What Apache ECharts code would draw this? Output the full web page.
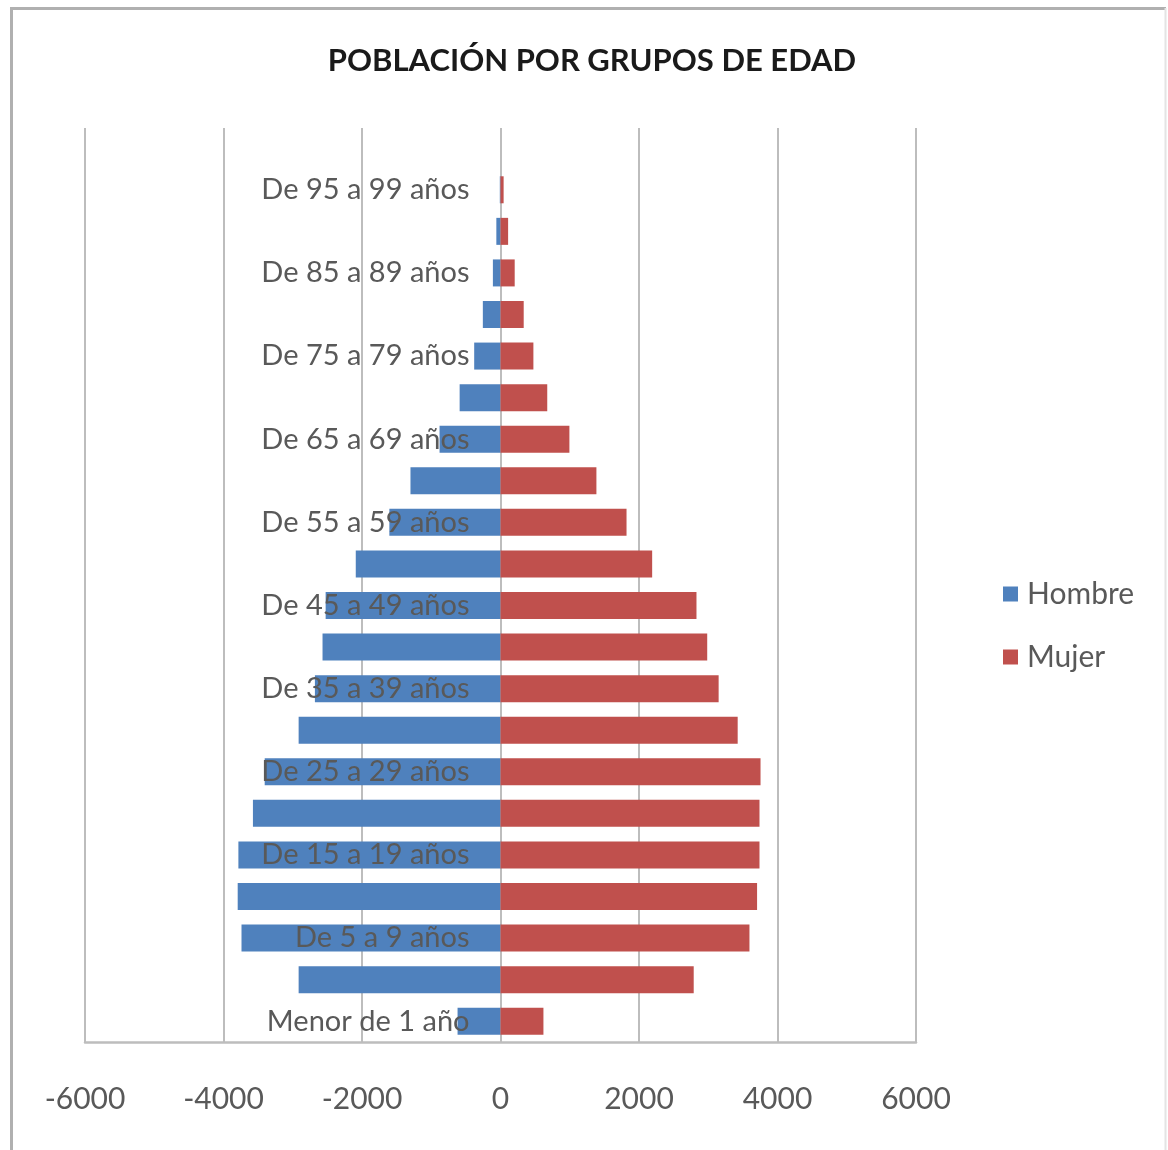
<!DOCTYPE html>
<html>
<head>
<meta charset="utf-8">
<title>Población por grupos de edad</title>
<script src="https://cdn.jsdelivr.net/npm/echarts@6/dist/echarts.min.js"></script>
<style>
  html, body { margin: 0; padding: 0; background: #ffffff; }
  #chart { width: 1168px; height: 1150px; }
</style>
</head>
<body>
<div id="chart"></div>
<script>
// Age groups, youngest at the bottom of the pyramid
const ageGroups = [
  'Menor de 1 año', 'De 1 a 4 años', 'De 5 a 9 años', 'De 10 a 14 años',
  'De 15 a 19 años', 'De 20 a 24 años', 'De 25 a 29 años', 'De 30 a 34 años',
  'De 35 a 39 años', 'De 40 a 44 años', 'De 45 a 49 años', 'De 50 a 54 años',
  'De 55 a 59 años', 'De 60 a 64 años', 'De 65 a 69 años', 'De 70 a 74 años',
  'De 75 a 79 años', 'De 80 a 84 años', 'De 85 a 89 años', 'De 90 a 94 años',
  'De 95 a 99 años'
];

// Men are plotted to the left (negative), women to the right
const hombre = [
  -620, -2915, -3740, -3795, -3785, -3575, -3405, -2915,
  -2680, -2570, -2525, -2090, -1605, -1300, -880, -590,
  -380, -255, -110, -60, -10
];
const mujer = [
  620, 2790, 3595, 3705, 3740, 3740, 3755, 3425,
  3150, 2985, 2830, 2190, 1820, 1385, 995, 675,
  475, 335, 205, 110, 45
];

const xTicks = [-6000, -4000, -2000, 0, 2000, 4000, 6000];

const FONT = 'Lato, "Open Sans", "Liberation Sans", sans-serif';
const GRID_COLOR = '#bdbdbd';

const PLOT_LEFT = 85;
const PLOT_RIGHT = 252;
const PLOT_WIDTH = 1168 - PLOT_LEFT - PLOT_RIGHT;

const chart = echarts.init(document.getElementById('chart'), null, { renderer: 'canvas' });

const xMin = xTicks[0];
const xMax = xTicks[xTicks.length - 1];
const xStep = xTicks[1] - xTicks[0];
// the age labels hang off the zero line, so shift the category axis onto it
const zeroOffset = -PLOT_WIDTH * (0 - xMin) / (xMax - xMin);

chart.setOption({
  backgroundColor: '#ffffff',
  animation: false,
  title: {
    text: 'POBLACIÓN POR GRUPOS DE EDAD',
    left: 587,
    top: 40,
    textAlign: 'center',
    textStyle: { fontFamily: FONT, fontWeight: 'bold', fontSize: 31, color: '#1a1a1a' }
  },
  legend: {
    orient: 'vertical',
    left: 1003,
    top: 579,
    padding: 0,
    itemWidth: 15,
    itemHeight: 15,
    itemGap: 33,
    icon: 'rect',
    data: ['Hombre', 'Mujer'],
    textStyle: { fontFamily: FONT, fontSize: 30, color: '#595959', padding: [0, 0, 0, 4] }
  },
  graphic: [
    { type: 'line', shape: { x1: 11.5, y1: 8.5, x2: 11.5, y2: 1200 }, style: { stroke: '#b0b0b0', lineWidth: 3 } },
    { type: 'line', shape: { x1: 10, y1: 8.5, x2: 1166, y2: 8.5 }, style: { stroke: '#b0b0b0', lineWidth: 3 } },
    { type: 'line', shape: { x1: 1165.5, y1: 8, x2: 1165.5, y2: 1200 }, style: { stroke: '#e4e4e4', lineWidth: 2 } }
  ],
  grid: [
    { left: PLOT_LEFT, right: PLOT_RIGHT, top: 169, bottom: 108, containLabel: false, outerBoundsMode: 'none' },
    { left: PLOT_LEFT, right: PLOT_RIGHT, top: 128, height: 41, containLabel: false, outerBoundsMode: 'none' }
  ],
  xAxis: [
    {
      type: 'value',
      gridIndex: 0,
      min: xMin,
      max: xMax,
      interval: xStep,
      axisLine: { show: true, onZero: false, lineStyle: { color: GRID_COLOR, width: 2.5 } },
      axisTick: { show: false },
      splitLine: { show: true, lineStyle: { color: GRID_COLOR, width: 2 } },
      axisLabel: {
        margin: 42,
        fontFamily: FONT,
        fontSize: 30,
        color: '#595959',
        formatter: v => String(v)
      }
    },
    {
      type: 'value',
      gridIndex: 1,
      min: xMin,
      max: xMax,
      interval: xStep,
      axisLine: { show: false },
      axisTick: { show: false },
      axisLabel: { show: false },
      splitLine: { show: true, lineStyle: { color: GRID_COLOR, width: 2 } }
    }
  ],
  yAxis: [
    {
      type: 'category',
      gridIndex: 0,
      data: ageGroups,
      position: 'left',
      offset: zeroOffset,
      z: 5,
      axisLine: { show: false, onZero: false },
      axisTick: { show: false },
      axisLabel: {
        interval: 1,
        margin: 31,
        fontFamily: FONT,
        fontSize: 29,
        color: '#595959'
      }
    },
    {
      type: 'value',
      gridIndex: 1,
      show: false
    }
  ],
  series: [
    {
      name: 'Hombre',
      type: 'bar',
      data: hombre,
      barWidth: 27,
      barGap: '-100%',
      itemStyle: { color: '#4f81bd' }
    },
    {
      name: 'Mujer',
      type: 'bar',
      data: mujer,
      barWidth: 27,
      barGap: '-100%',
      itemStyle: { color: '#c0504d' }
    }
  ]
});
</script>
</body>
</html>
